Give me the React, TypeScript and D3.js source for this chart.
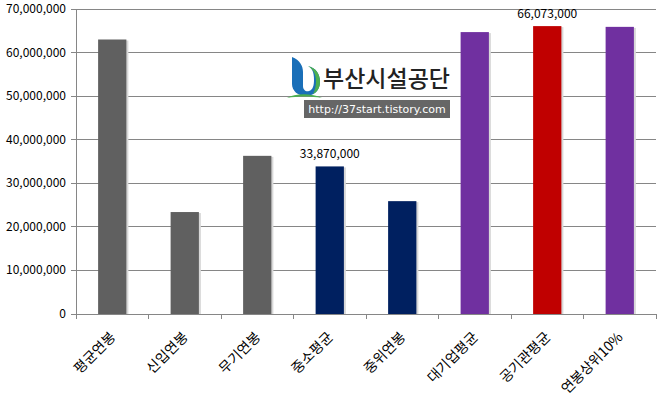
import React, { useEffect, useRef } from "react";
import * as d3 from "d3";

const categories = ["평균연봉", "신입연봉", "무기연봉", "중소평균", "중위연봉", "대기업평균", "공기관평균", "연봉상위10%"];
const values = [63000000, 23400000, 36300000, 33870000, 25900000, 64700000, 66073000, 65900000];
const barColors = ["#606060", "#606060", "#606060", "#002060", "#002060", "#7030A0", "#C00000", "#7030A0"];
const labelled = [3, 6];
const yTicks = [0, 10000000, 20000000, 30000000, 40000000, 50000000, 60000000, 70000000];

const App = () => {
  const svgRef = useRef<SVGSVGElement>(null);

  useEffect(() => {
    const svg = d3.select(svgRef.current);
    svg.selectAll("*").remove();

    const left = 76, right = 656, top = 9, bottom = 314;
    const font = "'Noto Sans CJK KR', 'DejaVu Sans', sans-serif";

    const x = d3.scaleBand().domain(categories).range([left, right]);
    const y = d3.scaleLinear().domain([0, 70000000]).range([bottom, top]);
    const barW = x.bandwidth() * 0.39;

    // gridlines
    svg.append("g")
      .selectAll("line")
      .data(yTicks)
      .join("line")
      .attr("x1", left - 5)
      .attr("x2", right)
      .attr("y1", (d) => y(d))
      .attr("y2", (d) => y(d))
      .attr("stroke", "#868686")
      .attr("stroke-width", 1)
      .attr("shape-rendering", "crispEdges");

    // y axis line
    svg.append("line")
      .attr("x1", left).attr("x2", left)
      .attr("y1", top).attr("y2", bottom)
      .attr("stroke", "#868686")
      .attr("shape-rendering", "crispEdges");

    svg.append("g")
      .selectAll("text")
      .data(yTicks)
      .join("text")
      .attr("x", 66)
      .attr("y", (d) => y(d) + 4)
      .attr("text-anchor", "end")
      .attr("font-family", font)
      .attr("font-size", 12)
      .attr("fill", "#000")
      .text((d) => d3.format(",")(d));

    // x axis ticks at band boundaries
    const bounds = categories.map((c) => x(c) as number).concat([right]);
    svg.append("g")
      .selectAll("line")
      .data(bounds)
      .join("line")
      .attr("x1", (d) => d).attr("x2", (d) => d)
      .attr("y1", bottom).attr("y2", bottom + 5)
      .attr("stroke", "#868686")
      .attr("shape-rendering", "crispEdges");

    // bar shadows
    svg.append("g")
      .selectAll("rect")
      .data(values)
      .join("rect")
      .attr("x", (d, i) => (x(categories[i]) as number) + (x.bandwidth() - barW) / 2 + 2)
      .attr("y", (d) => y(d) + 1)
      .attr("width", barW)
      .attr("height", (d) => bottom - y(d) - 1)
      .attr("fill", "#d8d8d8");

    svg.append("g")
      .selectAll("rect")
      .data(values)
      .join("rect")
      .attr("x", (d, i) => (x(categories[i]) as number) + (x.bandwidth() - barW) / 2)
      .attr("y", (d) => y(d))
      .attr("width", barW)
      .attr("height", (d) => bottom - y(d))
      .attr("fill", (d, i) => barColors[i]);

    // x axis line
    svg.append("line")
      .attr("x1", left - 5).attr("x2", right)
      .attr("y1", bottom).attr("y2", bottom)
      .attr("stroke", "#868686")
      .attr("shape-rendering", "crispEdges");

    // data labels
    svg.append("g")
      .selectAll("text")
      .data(labelled)
      .join("text")
      .attr("x", (i) => (x(categories[i]) as number) + x.bandwidth() / 2)
      .attr("y", (i) => y(values[i]) - 8)
      .attr("text-anchor", "middle")
      .attr("font-family", font)
      .attr("font-size", 12)
      .attr("fill", "#000")
      .text((i) => d3.format(",")(values[i]));

    // category labels
    svg.append("g")
      .selectAll("text")
      .data(categories)
      .join("text")
      .attr("transform", (d) => `translate(${(x(d) as number) + x.bandwidth() / 2 + 4},${bottom + 24}) rotate(-45)`)
      .attr("text-anchor", "end")
      .attr("font-family", font)
      .attr("font-size", 14)
      .attr("fill", "#000")
      .text((d) => d);

    // watermark logo
    const logo = svg.append("g");
    logo.append("path")
      .attr("d", "M292,57 C300,60 303,66 303,72 L303,86 C303,90 306,92 309,91 C313,90 314,85 314,80 C314,72 312,68 308,66 C316,68 320,74 320,82 C320,91 313,96 306,96 C298,96 292,91 292,84 Z")
      .attr("fill", "#1a6fb8");
    logo.append("path")
      .attr("d", "M308,66 C316,68 320,74 320,82 C320,88 317,92 313,94 C315,90 316,86 316,81 C316,74 313,69 308,66 Z")
      .attr("fill", "#4caf50");
    logo.append("path")
      .attr("d", "M287,98 C295,93 312,93 322,98 C312,96 297,96 287,98 Z")
      .attr("fill", "#4caf50");
    logo.append("text")
      .attr("x", 323)
      .attr("y", 87)
      .attr("font-family", font)
      .attr("font-size", 23)
      .attr("font-weight", 500)
      .attr("fill", "#222")
      .text("부산시설공단");
    logo.append("rect")
      .attr("x", 304).attr("y", 100)
      .attr("width", 146).attr("height", 18)
      .attr("fill", "#666666");
    logo.append("text")
      .attr("x", 377).attr("y", 113)
      .attr("text-anchor", "middle")
      .attr("font-family", "'DejaVu Sans', sans-serif")
      .attr("font-size", 11)
      .attr("fill", "#fff")
      .text("http://37start.tistory.com");
  }, []);

  return (
    <div style={{ position: "absolute", left: 0, top: 0 }}>
      <svg ref={svgRef} width={659} height={396} style={{ display: "block", background: "#fff" }}></svg>
    </div>
  );
};

export default App;
